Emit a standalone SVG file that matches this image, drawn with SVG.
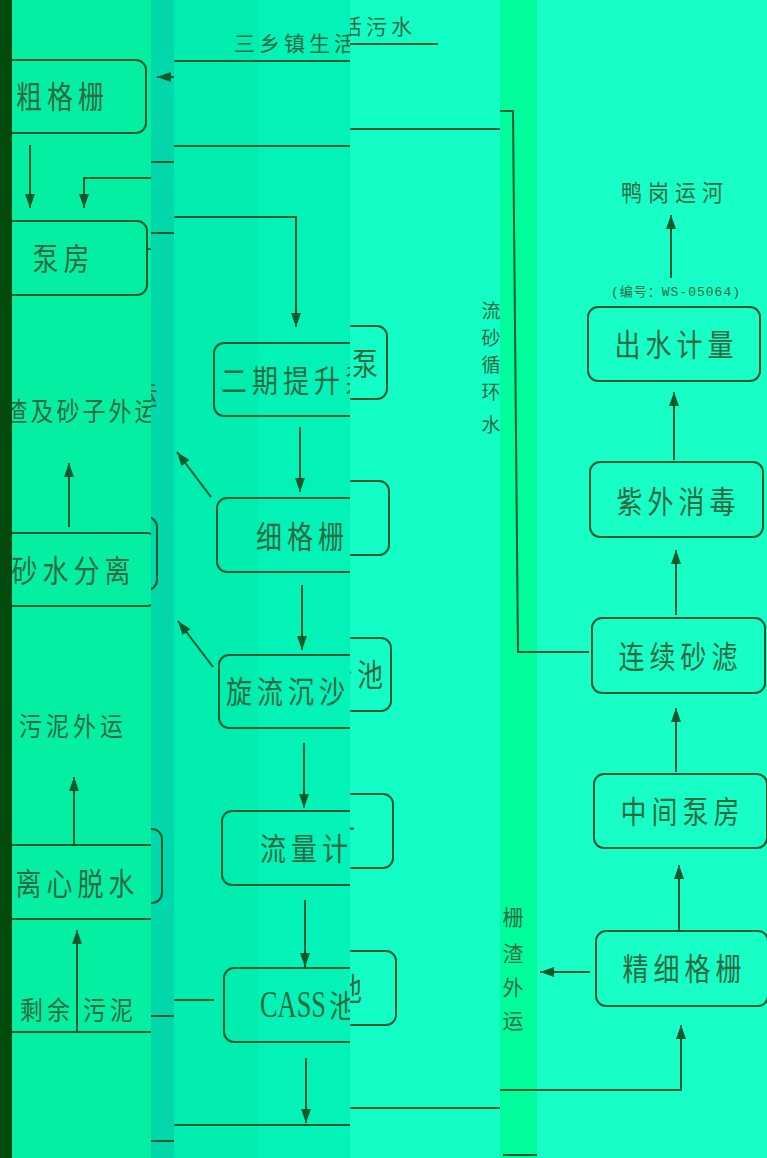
<svg xmlns="http://www.w3.org/2000/svg" xmlns:xlink="http://www.w3.org/1999/xlink" width="767" height="1158" viewBox="0 0 767 1158">
<style>
.box{fill:none;stroke:#0f5a2c;stroke-width:2}
.ln{fill:none;stroke:#0f5a2c;stroke-width:2}
.ar{marker-end:url(#ah)}
.bt{font-family:"Noto Sans CJK SC",sans-serif;font-size:26px;letter-spacing:5px;text-anchor:middle;fill:#2c6b42}
.st{font-family:"Noto Sans CJK SC",sans-serif;font-size:23px;letter-spacing:4px;text-anchor:middle;fill:#2c6b42}
.vt{font-family:"Noto Sans CJK SC",sans-serif;font-size:21px;text-anchor:middle;fill:#2c6b42}
.mono{font-family:"Liberation Mono","Noto Sans CJK SC",monospace;font-size:13px;letter-spacing:1px;text-anchor:middle;fill:#2c6b42}
</style>
<defs>
<marker id="ah" viewBox="0 0 14 10" refX="14" refY="5" markerWidth="14" markerHeight="10" markerUnits="userSpaceOnUse" orient="auto"><path d="M0,0L14,5L0,10z" fill="#0f5a2c"/></marker>
<clipPath id="cB1"><rect x="12" y="0" width="139" height="1158"/></clipPath>
<clipPath id="cB2"><rect x="151" y="0" width="23" height="1158"/></clipPath>
<clipPath id="cB3"><rect x="174" y="0" width="176" height="1158"/></clipPath>
<clipPath id="cB4"><rect x="350" y="0" width="150" height="1158"/></clipPath>
<clipPath id="cB5"><rect x="500" y="0" width="267" height="1158"/></clipPath>
<g id="diagram">
<g id="connectors">
<path class="ln ar" d="M431,61H157"/>
<path class="ln ar" d="M30,113V176"/>
<path class="ln ar" d="M147,217H296V327"/>
<path class="ln ar" d="M300,427V492"/>
<path class="ln ar" d="M211,497L177,452"/>
<path class="ln ar" d="M302,585V650"/>
<path class="ln ar" d="M213,667L178,621"/>
<path class="ln ar" d="M304,743V808"/>
<path class="ln ar" d="M305,900V967"/>
<path class="ln" d="M214,1000H0"/>
<path class="ln ar" d="M77,1000V898"/>
<path class="ln ar" d="M306,1058V1123"/>
<path class="ln ar" d="M151,1125H674V1060"/>
<path class="ln ar" d="M69,495V431"/>
<path class="ln ar" d="M74,813V745"/>
<path class="ln ar" d="M582,687H511L506,146H84V176"/>
<path class="ln ar" d="M664,313V250"/>
<path class="ln ar" d="M667,495V427"/>
<path class="ln ar" d="M669,650V585"/>
<path class="ln ar" d="M669,807V743"/>
<path class="ln ar" d="M672,966V900"/>
<path class="ln ar" d="M583,1007H533"/>
<path class="ln" d="M496,1190H530"/>
</g>
<g id="n-cugeshan"><rect class="box" x="-26" y="28" width="172" height="73" rx="10"/><text class="bt" transform="translate(60,64) scale(1,1.2)" x="2.5" y="9.9">粗格栅</text></g>
<g id="n-bengfang"><rect class="box" x="-25" y="189" width="172" height="74" rx="10"/><text class="bt" transform="translate(61,226) scale(1,1.2)" x="2.5" y="9.9">泵房</text></g>
<g id="t-zhaji"><text class="st" transform="translate(81,379) scale(1,1.15)" x="1.5" y="8.7" style="letter-spacing:3px">渣及砂子外运</text></g>
<g id="n-shashui"><rect class="box" x="-15" y="501" width="172" height="73" rx="10"/><text class="bt" transform="translate(71,538) scale(1,1.2)" x="2.5" y="9.9">砂水分离</text></g>
<g id="t-wuniwaiyun"><text class="st" transform="translate(71,694) scale(1,1.15)" x="2" y="8.7">污泥外运</text></g>
<g id="n-lixin"><rect class="box" x="-10" y="813" width="172" height="74" rx="10"/><text class="bt" transform="translate(75,851) scale(1,1.2)" x="2.5" y="9.9">离心脱水</text></g>
<g id="t-shengyu"><text class="st" transform="translate(0,978) scale(1,1.15)" y="8.7"><tspan x="47">剩余</tspan><tspan x="110">污泥</tspan></text></g>
<g id="t-source"><text class="st" style="font-size:21px;text-anchor:start" x="234" y="51">三乡镇生活污水</text></g>
<g id="n-erqi"><rect class="box" x="214" y="343" width="166" height="73" rx="10"/><text class="bt" transform="translate(296,380) scale(1,1.2)" x="2.5" y="9.9">二期提升泵</text></g>
<g id="n-xigeshan"><rect class="box" x="217" y="498" width="165" height="74" rx="10"/><text class="bt" transform="translate(300,536) scale(1,1.2)" x="2.5" y="9.9">细格栅</text></g>
<g id="n-xuanliu"><rect class="box" x="219" y="655" width="165" height="73" rx="10"/><text class="bt" transform="translate(301,691) scale(1,1.2)" x="2.5" y="9.9">旋流沉沙池</text></g>
<g id="n-liuliang"><rect class="box" x="222" y="811" width="164" height="74" rx="10"/><text class="bt" transform="translate(304,848) scale(1,1.2)" x="2.5" y="9.9">流量计</text></g>
<g id="n-cass"><rect class="box" x="224" y="968" width="165" height="74" rx="10"/><text class="bt" transform="translate(306,1005) scale(1,1.2)" x="-46" y="10" style="text-anchor:start;letter-spacing:0"><tspan style="font-family:'Liberation Serif',serif;font-size:32px" textLength="66" lengthAdjust="spacingAndGlyphs">CASS</tspan><tspan x="23">池</tspan></text></g>
<g id="t-river"><text class="st" style="font-size:21px;letter-spacing:6px" transform="translate(665,227) scale(1,1.1)" x="3" y="8">鸭岗运河</text></g>
<g id="t-code"><text class="mono" x="669" y="331">(编号：WS-05064)</text></g>
<g id="n-chushui"><rect class="box" x="581" y="342" width="172" height="74" rx="10"/><text class="bt" transform="translate(667,379) scale(1,1.2)" x="2.5" y="9.9">出水计量</text></g>
<g id="n-ziwai"><rect class="box" x="583" y="497" width="173" height="75" rx="10"/><text class="bt" transform="translate(669,536) scale(1,1.2)" x="2.5" y="9.9">紫外消毒</text></g>
<g id="n-lianxu"><rect class="box" x="585" y="653" width="173" height="75" rx="10"/><text class="bt" transform="translate(671,691) scale(1,1.2)" x="2.5" y="9.9">连续砂滤</text></g>
<g id="n-zhongjian"><rect class="box" x="587" y="809" width="173" height="74" rx="10"/><text class="bt" transform="translate(673,846) scale(1,1.2)" x="2.5" y="9.9">中间泵房</text></g>
<g id="n-jingxi"><rect class="box" x="589" y="966" width="172" height="75" rx="10"/><text class="bt" transform="translate(675,1003) scale(1,1.2)" x="2.5" y="9.9">精细格栅</text></g>
<g id="t-zhazha"><text class="vt"><tspan x="506" y="960">栅</tspan><tspan x="506" y="996">渣</tspan><tspan x="506" y="1030">外</tspan><tspan x="506" y="1063">运</tspan></text></g>
<g id="t-xunhuan"><text class="vt" style="font-size:19px"><tspan x="484" y="335">流</tspan><tspan x="484" y="362">砂</tspan><tspan x="484" y="389">循</tspan><tspan x="484" y="416">环</tspan><tspan x="484" y="449">水</tspan></text></g>
</g>
</defs>
<g id="background">
<rect x="0" y="0" width="767" height="1158" fill="#17fec7"/>
<rect x="12" y="0" width="139" height="1158" fill="#05efa2"/>
<rect x="151" y="0" width="23" height="1158" fill="#00d8ac"/>
<rect x="174" y="0" width="85" height="1158" fill="#00edb0"/>
<rect x="259" y="0" width="91" height="1158" fill="#03f2b7"/>
<rect x="350" y="0" width="150" height="1158" fill="#12fec6"/>
<rect x="500" y="0" width="37" height="1158" fill="#00fd9c"/>
<rect x="0" y="0" width="12" height="1158" fill="#034a0e"/>
</g>
<g clip-path="url(#cB1)"><use href="#diagram" xlink:href="#diagram" transform="translate(0,32)"/></g>
<g clip-path="url(#cB2)"><use href="#diagram" xlink:href="#diagram" transform="translate(0,16)"/></g>
<g clip-path="url(#cB3)"><use href="#diagram" xlink:href="#diagram"/></g>
<g clip-path="url(#cB4)"><use href="#diagram" xlink:href="#diagram" transform="translate(7,-17)"/></g>
<g clip-path="url(#cB5)"><use href="#diagram" xlink:href="#diagram" transform="translate(7,-35)"/></g>
</svg>
